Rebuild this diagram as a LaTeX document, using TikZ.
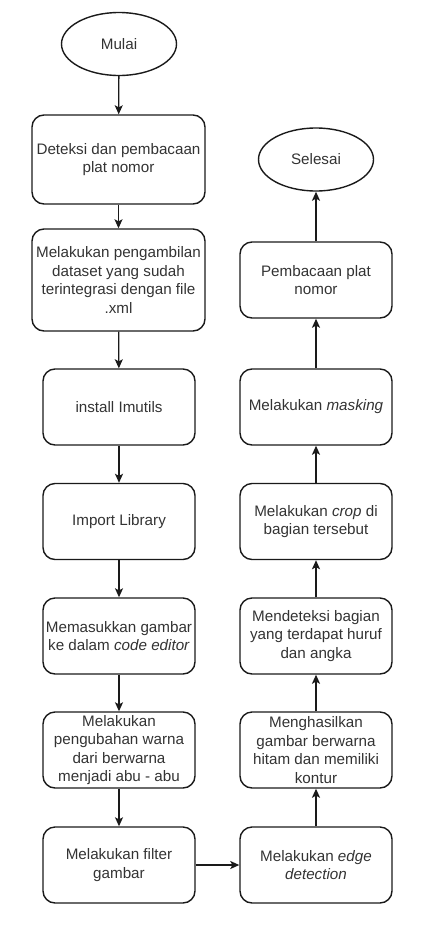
\documentclass[tikz,border=0pt]{standalone}
\usepackage{fontspec}
\setmainfont{Liberation Sans}
\usepackage{tikz}
\usetikzlibrary{shapes.geometric, arrows.meta, positioning}
\definecolor{linecolor}{HTML}{1A1A1A}
\definecolor{textcolor}{HTML}{333333}

\begin{document}
\begin{tikzpicture}[x=1pt, y=-1pt,
    every node/.style={font=\fontsize{15.2}{18.6}\selectfont, text=textcolor, align=center},
    terminal/.style={ellipse, draw=linecolor, line width=1.4pt, minimum width=115pt, minimum height=63pt, inner sep=0pt},
    process/.style={rectangle, rounded corners=12pt, draw=linecolor, line width=1.4pt, minimum width=152pt, minimum height=76pt, inner sep=0pt},
    wideprocess/.style={process, minimum width=173pt},
    flow/.style={draw=linecolor, line width=1.3pt, -{Stealth[length=9pt, width=8pt, inset=2pt]}}]
    \useasboundingbox (0,0) rectangle (421,930);

    % Left column
    \node[terminal] (mulai) at (119,44) {Mulai};
    \node[wideprocess, minimum height=89pt] (deteksi) at (118.5,159.5) {Deteksi dan pembacaan\\plat nomor};
    \node[wideprocess, minimum height=102pt] (dataset) at (118.5,280) {Melakukan pengambilan\\dataset yang sudah\\terintegrasi dengan file\\.xml};
    \node[process] (install) at (119,407) {install Imutils};
    \node[process] (import) at (119,521.5) {Import Library};
    \node[process] (masuk) at (119,636) {Memasukkan gambar\\ke dalam \textit{code editor}};
    \node[process] (warna) at (119,750) {Melakukan\\pengubahan warna\\dari berwarna\\menjadi abu - abu};
    \node[process] (filter) at (119,865) {Melakukan filter\\gambar};

    % Right column
    \node[process] (edge) at (316,865) {Melakukan \textit{edge}\\\textit{detection}};
    \node[process] (kontur) at (316,750) {Menghasilkan\\gambar berwarna\\hitam dan memiliki\\kontur};
    \node[process] (huruf) at (316,636) {Mendeteksi bagian\\yang terdapat huruf\\dan angka};
    \node[process] (crop) at (316,521.5) {Melakukan \textit{crop} di\\bagian tersebut};
    \node[process] (masking) at (316,407) {Melakukan \textit{masking}};
    \node[process] (baca) at (316,280) {Pembacaan plat\\nomor};
    \node[terminal] (selesai) at (316,159.5) {Selesai};

    % Arrows
    \draw[flow] (mulai) -- (deteksi);
    \draw[flow] (deteksi) -- (dataset);
    \draw[flow] (dataset) -- (install);
    \draw[flow] (install) -- (import);
    \draw[flow] (import) -- (masuk);
    \draw[flow] (masuk) -- (warna);
    \draw[flow] (warna) -- (filter);
    \draw[flow] (filter) -- (edge);
    \draw[flow] (edge) -- (kontur);
    \draw[flow] (kontur) -- (huruf);
    \draw[flow] (huruf) -- (crop);
    \draw[flow] (crop) -- (masking);
    \draw[flow] (masking) -- (baca);
    \draw[flow] (baca) -- (selesai);
  \end{tikzpicture}
\end{document}
